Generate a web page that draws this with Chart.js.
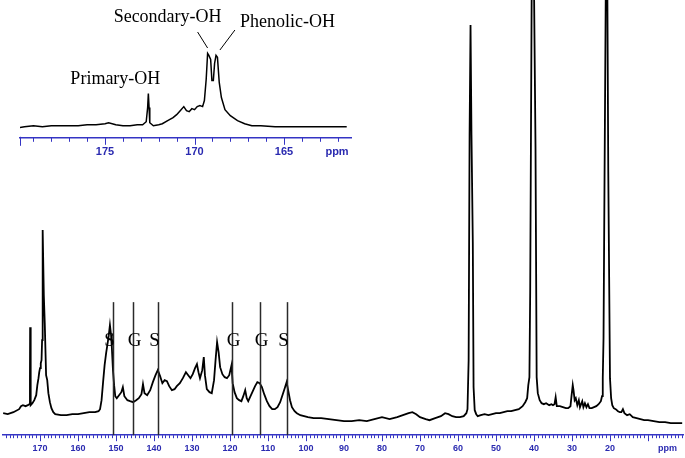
<!DOCTYPE html>
<html>
<head>
<meta charset="utf-8">
<script src="https://cdn.jsdelivr.net/npm/chart.js@4.4.1/dist/chart.umd.min.js"></script>
<style>
  html, body { margin: 0; padding: 0; background: #fff; overflow: hidden; }
  #wrap { position: relative; width: 685px; height: 458px; overflow: hidden; }
  #main { position: absolute; left: 0; top: 0; }
  #inset { position: absolute; left: 0; top: 0; }
</style>
</head>
<body>
<div id="wrap">
  <canvas id="main" width="685" height="466"></canvas>
  <canvas id="inset" width="360" height="169"></canvas>
</div>
<script>
// full 13C spectrum (ppm, intensity)
const mainPpm = [
  179.7, 178.5, 177, 175.5, 175, 174.5, 173.8, 173.2, 172.8, 172.65, 172.6, 172.5, 172.4, 172.0, 171.5, 171.0,
  170.7, 170.4, 170.2, 170.0, 169.8, 169.6, 169.45, 169.35, 169.25, 169.0, 168.75, 168.4, 168.1, 167.8, 167.4, 167.0,
  166.5, 166.0, 164.5, 163, 161.5, 160, 158.5, 157, 155.5, 154.6, 154.2, 153.8, 153.4, 153.0, 152.6, 152.2,
  151.9, 151.6, 151.3, 151.1, 150.8, 150.5, 150.2, 149.8, 149.2, 148.6, 148.2, 147.8, 147.0, 146.3, 145.5, 144.7,
  144.0, 143.3, 142.9, 142.5, 141.8, 141.0, 140.3, 139.6, 139.0, 138.4, 137.8, 137.2, 136.6, 136.0, 135.3, 134.6,
  134.0, 133.2, 132.4, 131.6, 131.0, 130.4, 129.8, 129.2, 128.7, 128.3, 127.9, 127.3, 126.9, 126.6, 126.1, 125.4,
  124.8, 124.2, 123.8, 123.4, 123.0, 122.6, 122.0, 121.4, 120.8, 120.2, 119.6, 119.3, 118.8, 118.2, 117.6, 117.0,
  116.5, 116.0, 115.6, 115.2, 114.6, 114.0, 113.4, 112.8, 112.2, 111.6, 111.0, 110.3, 109.6, 108.9, 108.2, 107.5,
  106.8, 106.2, 105.6, 105.1, 104.7, 104.2, 103.7, 103.0, 102.4, 101.5, 100.5, 99.5, 98, 96, 94, 92,
  90, 88, 86, 84, 82, 80, 78, 76, 74.5, 73, 72, 71, 70, 68.5, 67.5, 66,
  64.5, 63.4, 62.5, 61.5, 60.5, 59.5, 58.5, 57.8, 57.5, 57.2, 56.95, 56.7, 56.45, 56.1, 55.9, 55.6,
  55.2, 54.8, 54.0, 53.0, 52.0, 51.0, 50.0, 49.0, 48.0, 47.0, 46.0, 45.0, 44.0, 43.0, 42.3, 41.8,
  41.5, 41.2, 41.0, 40.6, 40.0, 39.6, 39.3, 39.0, 38.5, 38.0, 37.4, 36.8, 36.0, 35.4, 35.0, 34.6,
  34.3, 34.0, 33.2, 32.4, 31.6, 31.0, 30.4, 30.1, 29.8, 29.6, 29.3, 29.0, 28.6, 28.2, 27.9, 27.3,
  27.0, 26.6, 26.2, 25.8, 25.4, 24.8, 24.2, 23.6, 23.0, 22.4, 22.1, 21.9, 21.7, 21.5, 21.1, 20.7,
  20.45, 20.0, 19.7, 19.4, 19.0, 18.5, 17.9, 17.4, 17.0, 16.6, 16.2, 15.5, 14.8, 14.0, 13.0, 12.0,
  11.0, 10.0, 8.5, 7.0, 5.5, 4.0, 2.5, 1.0
];
const mainIntensity = [
  22, 21, 23, 26, 29, 30, 29, 30, 31, 55, 108, 50, 30, 32, 35, 40,
  50, 57, 63, 67, 72, 75, 95, 175, 205, 140, 112, 60, 55, 42, 33, 27,
  23, 21, 20, 20, 21, 21, 22, 23, 23, 24, 26, 35, 53, 70, 82, 92,
  100, 110, 100, 88, 65, 50, 39, 37, 40, 43, 48, 39, 35, 34, 33, 35,
  37, 41, 51, 42, 40, 45, 53, 60, 65, 59, 52, 55, 54, 49, 45, 46,
  49, 52, 57, 63, 60, 57, 61, 67, 71, 63, 57, 65, 78, 60, 46, 43,
  42, 55, 75, 93, 83, 68, 61, 58, 57, 60, 70, 52, 43, 37, 35, 34,
  39, 45, 37, 34, 39, 44, 49, 53, 52, 48, 41, 34, 29, 26, 26, 28,
  33, 40, 47, 53, 45, 35, 28, 24, 22, 20, 19, 18, 17, 17, 16, 15,
  14, 14, 15, 14, 16, 18, 16, 18, 20, 22, 23, 21, 18, 16, 15, 17,
  19, 22, 21, 19, 18, 18, 19, 22, 26, 75, 300, 410, 300, 192, 48, 25,
  21, 19, 20, 21, 20, 21, 22, 22, 23, 24, 24, 25, 26, 29, 33, 37,
  50, 58, 143, 450, 450, 288, 58, 42, 35, 32, 31, 32, 30, 31, 30, 31,
  38, 29, 29, 28, 27, 27, 29, 40, 50, 45, 35, 37, 30, 35, 28, 34,
  28, 32, 28, 31, 27, 27, 28, 29, 31, 34, 39, 57, 97, 218, 450, 450,
  263, 57, 37, 30, 27, 26, 24, 23, 23, 26, 22, 20, 21, 18, 17, 16,
  15, 15, 14, 13, 13, 12, 12, 12
];

// expanded OH region (inset)
const insetPpm = [
  179.86, 179.5, 179, 178.5, 178, 177.5, 177, 176.5, 176, 175.5, 175, 174.8, 174.4, 174, 173.6, 173.2,
  172.9, 172.7, 172.62, 172.58, 172.54, 172.5, 172.3, 172, 171.8, 171.5, 171.2, 171.0, 170.8, 170.6, 170.45, 170.3,
  170.15, 170.0, 169.85, 169.7, 169.55, 169.45, 169.35, 169.27, 169.2, 169.1, 169.03, 168.95, 168.88, 168.8, 168.72, 168.62,
  168.5, 168.3, 168.0, 167.6, 167.2, 166.8, 166.3, 165.5, 165, 164.2, 163.5, 162.5, 161.5
];
const insetIntensity = [
  10, 11, 12, 11, 12, 12, 12, 12, 13, 13, 14, 15, 13, 12, 12, 13,
  13, 16, 30, 44, 30, 15, 12, 13, 14, 17, 20, 23, 27, 31, 27, 26,
  29, 28, 31, 32, 31, 37, 58, 84, 82, 78, 57, 57, 74, 82, 80, 55,
  40, 28, 22, 17, 14, 12, 12, 11, 11, 11, 11, 11, 11
];

// tick labels
const mainTickValues = [170, 160, 150, 140, 130, 120, 110, 100, 90, 80, 70, 60, 50, 40, 30, 20];
const insetTickValues = [175, 170, 165];
const axisUnit = "ppm";

// S / G assignments
const assignPpm = [150.8, 145.5, 139.0, 119.5, 112.0, 105.0];
const assignLabels = ["S", "G", "S", "G", "G", "S"];

// OH labels in the inset
const ohLabels = ["Primary-OH", "Secondary-OH", "Phenolic-OH"];
const ohPpm = [172.58, 169.27, 168.75];

const BLUE = "#3434c4";
const TICK_BLUE = "#2a2ab0";

function minorTicks(minor, major, endTick) {
  return {
    id: "minorTicks",
    afterDraw(chart) {
      const s = chart.scales.x;
      const ctx = chart.ctx;
      const y0 = s.top;
      ctx.save();
      ctx.strokeStyle = BLUE;
      ctx.lineWidth = 1;
      for (let v = Math.ceil(s.min); v <= Math.floor(s.max); v++) {
        const x = Math.round(s.getPixelForValue(v)) + 0.5;
        const len = v % major === 0 ? minor + 3 : minor;
        ctx.beginPath();
        ctx.moveTo(x, y0);
        ctx.lineTo(x, y0 + len);
        ctx.stroke();
      }
      if (endTick) {
        const x = Math.round(s.left) + 0.5;
        ctx.beginPath();
        ctx.moveTo(x, y0 - 1);
        ctx.lineTo(x, y0 + endTick);
        ctx.stroke();
      }
      ctx.restore();
    }
  };
}

function axisTicks(values, unitValue) {
  return (scale) => {
    scale.ticks = values.map((v) => ({ value: v }))
      .concat([{ value: unitValue }]);
  };
}

const assignPlugin = {
  id: "assign",
  afterDatasetsDraw(chart) {
    const { ctx, scales: { x, y } } = chart;
    ctx.save();
    ctx.strokeStyle = "#2a2a2a";
    ctx.lineWidth = 1.5;
    ctx.fillStyle = "#000";
    ctx.font = "19px 'Liberation Serif', 'Times New Roman', serif";
    ctx.textAlign = "center";
    ctx.textBaseline = "middle";
    assignPpm.forEach((p, i) => {
      const px = Math.round(x.getPixelForValue(p)) + 0.5;
      ctx.beginPath();
      ctx.moveTo(px, y.getPixelForValue(0));
      ctx.lineTo(px, y.getPixelForValue(133));
      ctx.stroke();
      const nudge = assignLabels[i] === "S" ? -4 : 1;
      ctx.fillText(assignLabels[i], px + nudge, y.getPixelForValue(94));
    });
    ctx.restore();
  }
};

const ohPlugin = {
  id: "ohLabels",
  afterDatasetsDraw(chart) {
    const { ctx, scales: { x } } = chart;
    ctx.save();
    ctx.fillStyle = "#000";
    ctx.strokeStyle = "#000";
    ctx.lineWidth = 1;
    ctx.font = "18px 'Liberation Serif', 'Times New Roman', serif";
    ctx.textBaseline = "alphabetic";
    const p0 = x.getPixelForValue(ohPpm[0]);
    const p1 = x.getPixelForValue(ohPpm[1]);
    const p2 = x.getPixelForValue(ohPpm[2]);
    ctx.textAlign = "right";
    ctx.fillText(ohLabels[0], p0 + 12, 84);
    ctx.textAlign = "center";
    ctx.fillText(ohLabels[1], p1 - 40, 22);
    ctx.textAlign = "left";
    ctx.fillText(ohLabels[2], p2 + 23, 27);
    ctx.beginPath();
    ctx.moveTo(p1 - 10, 32);
    ctx.lineTo(p1, 48);
    ctx.moveTo(p2 + 18, 30);
    ctx.lineTo(p2 + 3, 50);
    ctx.stroke();
    ctx.restore();
  }
};

function spectrum(ppm, vals, width) {
  return {
    data: ppm.map((p, i) => ({ x: p, y: vals[i] })),
    borderColor: "#000",
    borderWidth: width,
    pointRadius: 0,
    tension: 0,
    fill: false
  };
}

function xAxis(min, max, values, unitValue, fontSize, pad) {
  return {
    type: "linear",
    reverse: true,
    min,
    max,
    afterBuildTicks: axisTicks(values, unitValue),
    grid: { display: false, drawTicks: false },
    border: { display: true, color: BLUE, width: 1.5 },
    ticks: {
      autoSkip: false,
      maxRotation: 0,
      padding: pad,
      color: TICK_BLUE,
      font: { family: "'Liberation Sans', Arial, sans-serif", size: fontSize, weight: "bold" },
      callback: (v) => (v === unitValue ? axisUnit : String(v))
    }
  };
}

new Chart(document.getElementById("main"), {
  type: "line",
  data: { datasets: [spectrum(mainPpm, mainIntensity, 1.8)] },
  options: {
    responsive: false,
    animation: false,
    layout: { padding: { left: 3, right: 1, top: 0, bottom: 4 } },
    plugins: { legend: { display: false }, tooltip: { enabled: false } },
    scales: {
      x: xAxis(0.53, 179.74, mainTickValues, 4.87, 9, 8),
      y: { display: false, min: 0, max: 435 }
    }
  },
  plugins: [minorTicks(3, 10, 0), assignPlugin]
});

new Chart(document.getElementById("inset"), {
  type: "line",
  data: { datasets: [spectrum(insetPpm, insetIntensity, 1.5)] },
  options: {
    responsive: false,
    animation: false,
    layout: { padding: { left: 20, right: 9, top: 0, bottom: 2 } },
    plugins: { legend: { display: false }, tooltip: { enabled: false } },
    scales: {
      x: xAxis(161.26, 179.75, insetTickValues, 162.04, 11, 8),
      y: { display: false, min: 0, max: 137 }
    }
  },
  plugins: [minorTicks(4, 5, 8), ohPlugin]
});
</script>
</body>
</html>
